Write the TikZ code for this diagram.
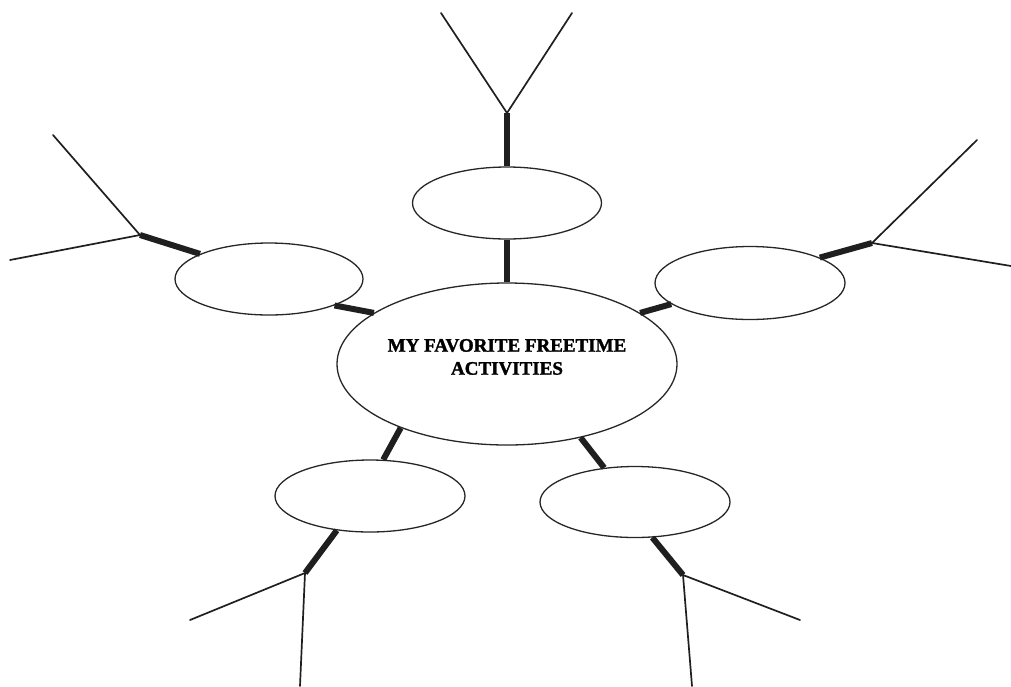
\documentclass[tikz,border=0pt]{standalone}
\usepackage{fontspec}
\setmainfont{Liberation Serif}
\newfontfamily\titlefont[FakeBold=1.6]{Liberation Serif Bold}
\usetikzlibrary{shapes.geometric}
\begin{document}
\begin{tikzpicture}[x=1pt,y=-1pt,
  bubble/.style={ellipse, draw=black!85, line width=1.3pt, fill=white, inner sep=0pt},
  stem/.style={draw=black!88, line width=6pt},
  twig/.style={draw=black!88, line width=1.7pt, line join=round, line cap=round}]
\useasboundingbox (0,0) rectangle (1011,686);

% central bubble and its title
\node[bubble, minimum width=340, minimum height=162] (hub) at (507,364) {};
\node[font=\titlefont\fontsize{19}{23}\selectfont, align=center] (title) at (507,357)
  {MY FAVORITE FREETIME\\ACTIVITIES};

% five outer bubbles
\node[bubble, minimum width=189, minimum height=72] (top) at (507,203) {};
\node[bubble, minimum width=188, minimum height=72] (left) at (269,279) {};
\node[bubble, minimum width=190, minimum height=73] (right) at (750,283) {};
\node[bubble, minimum width=190, minimum height=72] (bl) at (370,496) {};
\node[bubble, minimum width=190, minimum height=71] (br) at (635,502) {};

% fork points and the free ends of their branches
\coordinate (jt) at (507,113);
\coordinate (jl) at (140,235);
\coordinate (jr) at (872,243);
\coordinate (jbl) at (305,573);
\coordinate (jbr) at (683,575);
\coordinate (t1) at (441,13);   \coordinate (t2) at (572,13);
\coordinate (l1) at (53,135);   \coordinate (l2) at (10,260);
\coordinate (r1) at (977,140);  \coordinate (r2) at (1011,266);
\coordinate (bl1) at (190,620); \coordinate (bl2) at (300,686);
\coordinate (br1) at (800,620); \coordinate (br2) at (692,686);

% thick stems between bubbles
\draw[stem] (top.south) -- (hub.north);
\draw[stem] (left.338) -- (hub.159.6);
\draw[stem] (right.195.4) -- (hub.21);
\draw[stem] (bl.70) -- (hub.211.7);
\draw[stem] (br.132.4) -- (hub.315.8);

% thick stems from each bubble out to its fork
\draw[stem] (top.north) -- (jt);
\draw[stem] (left.160.8) -- (jl);
\draw[stem] (right.20.5) -- (jr);
\draw[stem] (bl.226) -- (jbl);
\draw[stem] (br.296.6) -- (jbr);

% thin branches of each fork
\draw[twig] (t1) -- (jt) -- (t2);
\draw[twig] (l1) -- (jl) -- (l2);
\draw[twig] (r1) -- (jr) -- (r2);
\draw[twig] (bl1) -- (jbl) -- (bl2);
\draw[twig] (br1) -- (jbr) -- (br2);
\end{tikzpicture}
\end{document}
